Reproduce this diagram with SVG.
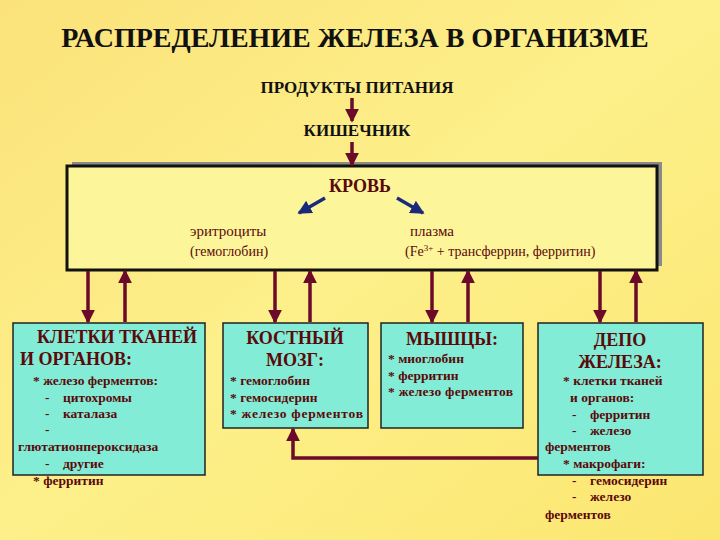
<svg xmlns="http://www.w3.org/2000/svg" width="720" height="540" viewBox="0 0 720 540">
<defs>
<linearGradient id="bg" x1="0" y1="0" x2="1" y2="1"><stop offset="0" stop-color="#fbe27a"/><stop offset="0.5" stop-color="#fdf08a"/><stop offset="1" stop-color="#fbe670"/></linearGradient>
<marker id="ar" markerWidth="4" markerHeight="4" refX="3.5" refY="2" orient="auto" markerUnits="strokeWidth"><path d="M0,0 L4,2 L0,4 z" fill="#6b0a2a"/></marker>
<marker id="ab" markerWidth="4" markerHeight="4" refX="3.5" refY="2" orient="auto" markerUnits="strokeWidth"><path d="M0,0 L4,2 L0,4 z" fill="#1a2a7a"/></marker>
</defs>
<style>
text{font-family:"Liberation Serif",serif;font-weight:bold;fill:#5a0a0a}
.h{font-size:18px}
.s{font-size:13.5px}
.m{font-size:17px;fill:#111}
.box{fill:#82ecd6;stroke:#222;stroke-width:1.5}
.c{stroke:#6b0a2a;stroke-width:3.5;fill:none;marker-end:url(#ar)}
</style>
<rect width="720" height="540" fill="url(#bg)"/>
<text x="355" y="47" text-anchor="middle" style="font-size:28px;fill:#111">РАСПРЕДЕЛЕНИЕ ЖЕЛЕЗА В ОРГАНИЗМЕ</text>
<g id="food"><text class="m" x="357" y="93" text-anchor="middle">ПРОДУКТЫ ПИТАНИЯ</text></g>
<g id="gut"><text class="m" x="357" y="136" text-anchor="middle">КИШЕЧНИК</text></g>
<g id="blood">
<rect x="72" y="162" width="590" height="104" fill="#8a8a8a"/>
<rect x="67" y="166" width="590" height="104" fill="#fdf59a" stroke="#111" stroke-width="3"/>
<text x="360" y="192" text-anchor="middle" style="font-size:18px">КРОВЬ</text>
<text x="190" y="236" style="font-size:15px;font-weight:normal">эритроциты</text>
<text x="190" y="256" style="font-size:14px;font-weight:normal">(гемоглобин)</text>
<text x="410" y="236" style="font-size:15px;font-weight:normal">плазма</text>
<text x="405" y="256" style="font-size:14px;font-weight:normal">(Fe<tspan dy="-5" style="font-size:9px">3+</tspan><tspan dy="5"> + трансферрин, ферритин)</tspan></text>
</g>
<g id="cells"><rect class="box" x="13" y="323" width="192" height="152"/>
<text class="h" x="37" y="343">КЛЕТКИ ТКАНЕЙ</text><text class="h" x="20" y="365">И ОРГАНОВ:</text>
<text class="s" x="33" y="385">* железо ферментов:</text>
<text class="s" x="45" y="402">-</text><text class="s" x="63" y="402">цитохромы</text>
<text class="s" x="45" y="418">-</text><text class="s" x="63" y="418">каталаза</text>
<text class="s" x="45" y="434">-</text>
<text class="s" x="18" y="451">глютатионпероксидаза</text>
<text class="s" x="45" y="468">-</text><text class="s" x="63" y="468">другие</text>
<text class="s" x="33" y="485">* ферритин</text></g>
<g id="marrow"><rect class="box" x="223" y="323" width="145" height="105"/>
<text class="h" x="295" y="344" text-anchor="middle">КОСТНЫЙ</text><text class="h" x="295" y="366" text-anchor="middle">МОЗГ:</text>
<text class="s" x="230" y="385">* гемоглобин</text><text class="s" x="230" y="402">* гемосидерин</text><text class="s" x="230" y="418" textLength="133">* железо  ферментов</text></g>
<g id="muscle"><rect class="box" x="381" y="323" width="142" height="105"/>
<text class="h" x="452" y="345" text-anchor="middle">МЫШЦЫ:</text>
<text class="s" x="388" y="363">* миоглобин</text><text class="s" x="388" y="380">* ферритин</text><text class="s" x="388" y="396" textLength="125">* железо  ферментов</text></g>
<g id="depot"><rect class="box" x="538" y="323" width="165" height="152"/>
<text class="h" x="620" y="346" text-anchor="middle">ДЕПО</text><text class="h" x="620" y="368" text-anchor="middle">ЖЕЛЕЗА:</text>
<text class="s" x="563" y="385">* клетки тканей</text><text class="s" x="570" y="402">и органов:</text>
<text class="s" x="572" y="419">-</text><text class="s" x="590" y="419">ферритин</text>
<text class="s" x="572" y="435">-</text><text class="s" x="590" y="435">железо</text>
<text class="s" x="545" y="451">ферментов</text>
<text class="s" x="563" y="468">* макрофаги:</text>
<text class="s" x="572" y="485">-</text><text class="s" x="590" y="485">гемосидерин</text>
<text class="s" x="572" y="501">-</text><text class="s" x="590" y="501">железо</text>
<text class="s" x="545" y="519">ферментов</text></g>
<g id="connectors">
<line class="c" x1="352" y1="98" x2="352" y2="121"/>
<line class="c" x1="352" y1="142" x2="352" y2="165"/>
<line x1="325" y1="198" x2="299" y2="213" stroke="#1a2a7a" stroke-width="3.5" marker-end="url(#ab)"/>
<line x1="397" y1="198" x2="423" y2="213" stroke="#1a2a7a" stroke-width="3.5" marker-end="url(#ab)"/>
<line class="c" x1="88" y1="271" x2="88" y2="322"/><line class="c" x1="125" y1="322" x2="125" y2="271"/>
<line class="c" x1="275" y1="271" x2="275" y2="322"/><line class="c" x1="310" y1="322" x2="310" y2="271"/>
<line class="c" x1="432" y1="271" x2="432" y2="322"/><line class="c" x1="468" y1="322" x2="468" y2="271"/>
<line class="c" x1="600" y1="271" x2="600" y2="322"/><line class="c" x1="636" y1="322" x2="636" y2="271"/>
<polyline class="c" points="538,458 293,458 293,429"/>
</g>
</svg>
